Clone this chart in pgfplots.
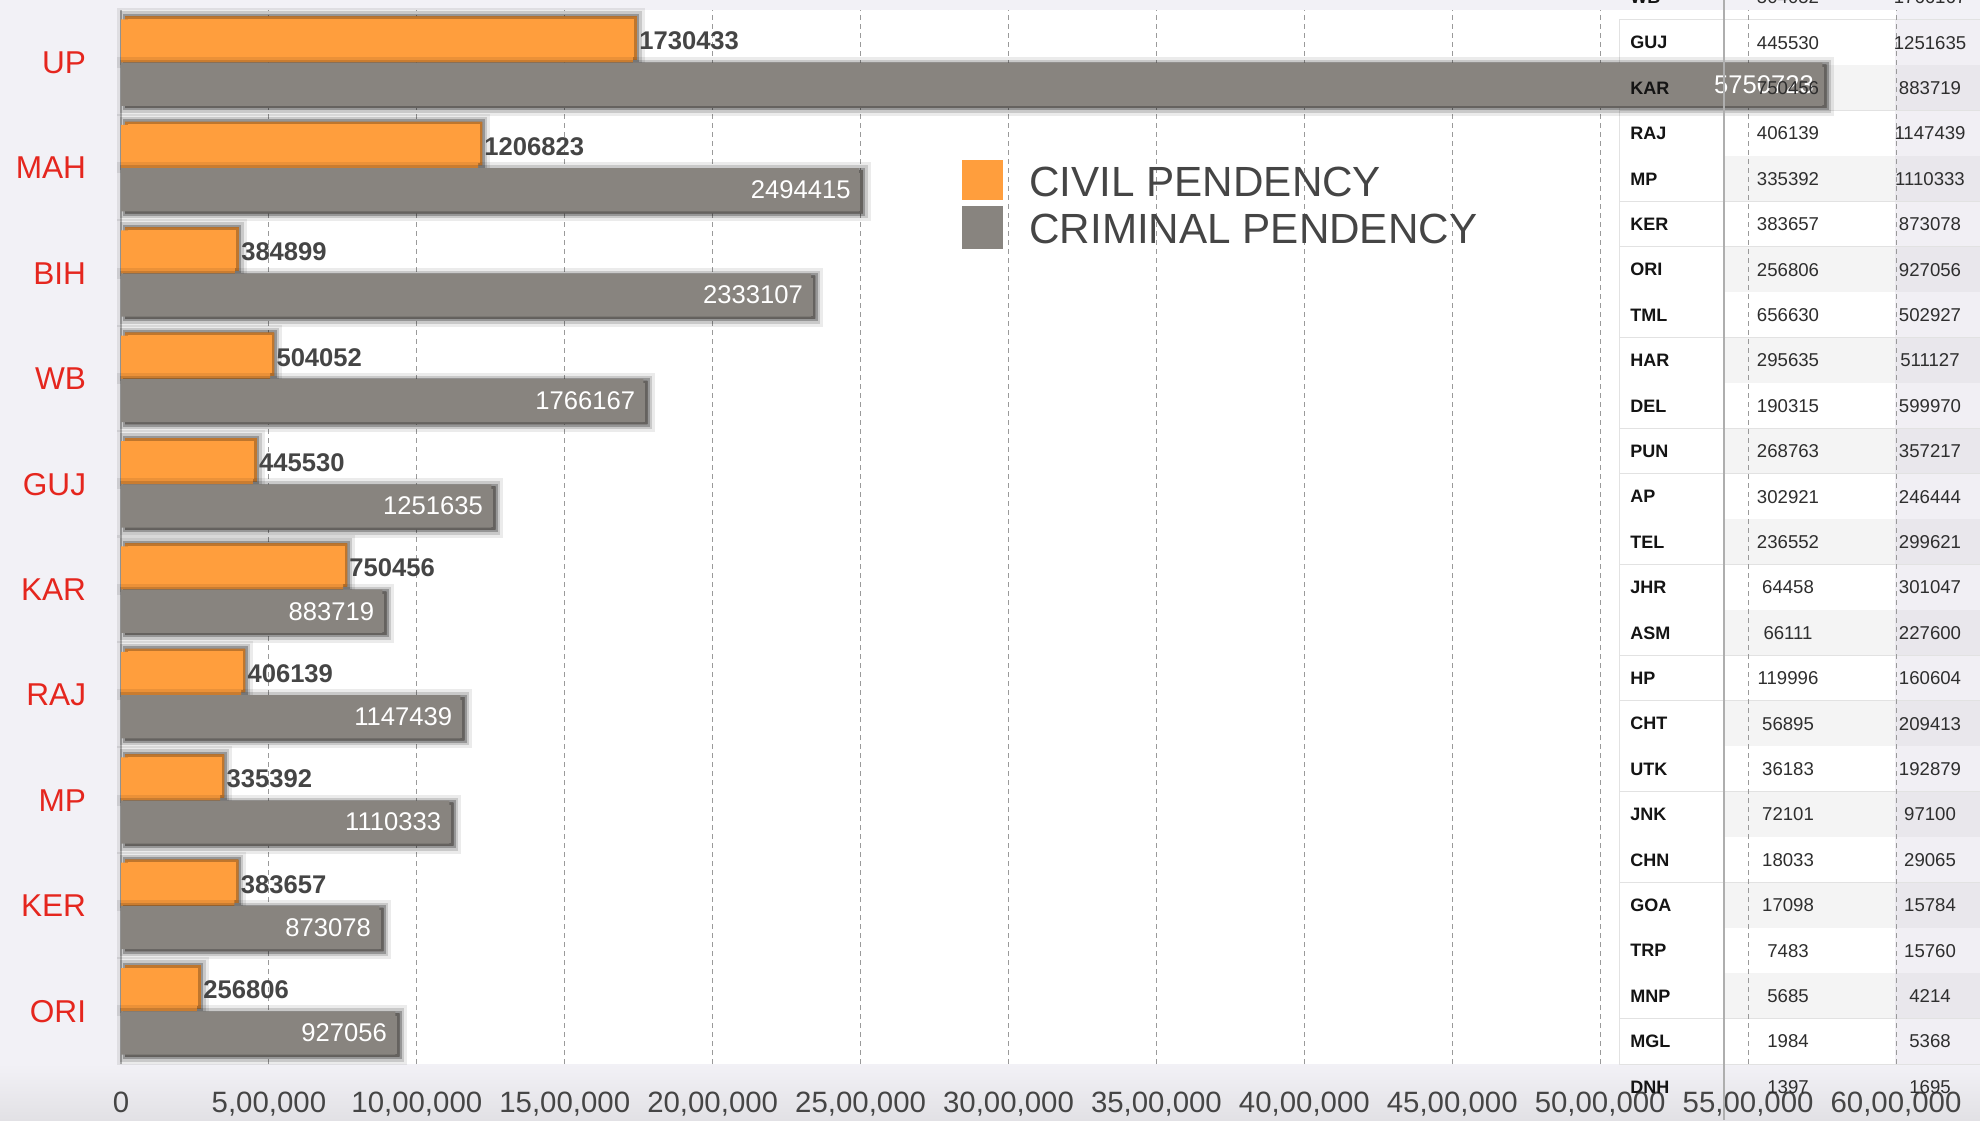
\documentclass[border=0pt]{standalone}
\usepackage{fontspec}
\setmainfont{Liberation Sans}
\usepackage{pgfplots}
\pgfplotsset{compat=1.18}

\definecolor{civ}{HTML}{FF9E3D}
\definecolor{crim}{HTML}{88847F}
\definecolor{catred}{HTML}{E5261E}
\definecolor{txt}{HTML}{454545}
\definecolor{pagebg}{HTML}{F2F1F6}
\definecolor{bandbg}{HTML}{E2E1E5}
\definecolor{gridc}{HTML}{9A9A9A}
\definecolor{tcol2}{HTML}{F4F4F4}
\definecolor{tcolA}{HTML}{F1EFF4}
\definecolor{tcolB}{HTML}{E9E7EC}
\definecolor{tline}{HTML}{E2E2E2}
\definecolor{tname}{HTML}{141414}
\definecolor{tnum}{HTML}{2E2E2E}

\begin{document}
\begin{tikzpicture}
\useasboundingbox (0,0) rectangle (990pt,560pt);
\clip (0,0) rectangle (990pt,560pt);
\fill[pagebg] (0,0) rectangle (990pt,560pt);
\shade[top color=pagebg, bottom color=bandbg] (0,0) rectangle (990pt,28pt);
% plot area
\fill[white] (60.5pt,28pt) rectangle (948pt,555pt);
% table cells
\foreach \i in {1,...,23} {
  \pgfmathsetmacro\yt{572.7-22.7*\i}
  \pgfmathsetmacro\yb{550-22.7*\i}
  \pgfmathtruncatemacro\odd{mod(\i,2)}
  \ifnum\odd=1 \def\cb{white}\def\cc{tcolA}\else\def\cb{tcol2}\def\cc{tcolB}\fi
  \fill[white] (809.5pt,\yb pt) rectangle (862pt,\yt pt);
  \fill[\cb] (862pt,\yb pt) rectangle (947.5pt,\yt pt);
  \fill[\cc] (947.5pt,\yb pt) rectangle (990pt,\yt pt);
  \draw[tline, line width=0.5pt] (809.5pt,\yb pt) -- (990pt,\yb pt);
}
\draw[tline, line width=0.5pt] (809.5pt,550pt) -- (990pt,550pt);
\draw[tline, line width=0.5pt] (809.5pt,28pt) -- (809.5pt,550pt);

\begin{axis}[
  at={(60.5pt,28pt)}, anchor=south west,
  scale only axis, width=887.5pt, height=527pt,
  xbar, bar width=0.41,
  xmin=0, xmax=6000000, ymin=-0.5, ymax=9.5,
  enlargelimits=false, clip=false,
  axis x line*=bottom, axis y line*=left,
  x axis line style={draw=none},
  y axis line style={draw=gridc!70, line width=0.6pt},
  xtick={0,500000,1000000,1500000,2000000,2500000,3000000,3500000,4000000,4500000,5000000,5500000,6000000},
  xticklabels={{0},{5,00,000},{10,00,000},{15,00,000},{20,00,000},{25,00,000},{30,00,000},{35,00,000},{40,00,000},{45,00,000},{50,00,000},{55,00,000},{60,00,000}},
  ytick={0,1,2,3,4,5,6,7,8,9},
  yticklabels={ORI,KER,MP,RAJ,KAR,GUJ,WB,BIH,MAH,UP},
  tick style={draw=none},
  xmajorgrids=true,
  grid style={dash pattern=on 2.5pt off 2pt, color=gridc, line width=0.5pt},
  xticklabel style={font=\fontsize{14.7}{15}\selectfont, text=txt, anchor=north, inner sep=0pt, yshift=-14pt},
  yticklabel style={font=\fontsize{15.8}{16}\selectfont, text=catred, anchor=east, inner sep=0pt, xshift=-13pt},
  /pgf/number format/assume math mode=true,
  point meta=x,
  nodes near coords={\pgfmathprintnumber[fixed, precision=0, 1000 sep={}]{\pgfplotspointmeta}},
]
\addplot[fill=civ, draw=none, bar shift=0.205,
  preaction={draw=black, draw opacity=0.08, line width=8pt, transform canvas={xshift=2pt, yshift=1.5pt}},
  preaction={draw=black, draw opacity=0.14, line width=5pt, transform canvas={xshift=2pt, yshift=1.5pt}},
  preaction={draw=black, draw opacity=0.25, line width=2.5pt, transform canvas={xshift=2pt, yshift=1.5pt}},
  every node near coord/.append style={anchor=west, xshift=3pt, inner sep=0pt, text=txt, font=\fontsize{12.8}{13}\selectfont\bfseries}]
  coordinates {
  (1730433,9)
  (1206823,8)
  (384899,7)
  (504052,6)
  (445530,5)
  (750456,4)
  (406139,3)
  (335392,2)
  (383657,1)
  (256806,0)
};
\addplot[fill=crim, draw=none, bar shift=-0.205,
  preaction={draw=black, draw opacity=0.08, line width=8pt, transform canvas={xshift=2pt, yshift=-1pt}},
  preaction={draw=black, draw opacity=0.14, line width=5pt, transform canvas={xshift=2pt, yshift=-1pt}},
  preaction={draw=black, draw opacity=0.25, line width=2.5pt, transform canvas={xshift=2pt, yshift=-1pt}},
  every node near coord/.append style={anchor=east, xshift=-4pt, inner sep=0pt, text=white, font=\fontsize{12.8}{13}\selectfont}]
  coordinates {
  (5750723,9)
  (2494415,8)
  (2333107,7)
  (1766167,6)
  (1251635,5)
  (883719,4)
  (1147439,3)
  (1110333,2)
  (873078,1)
  (927056,0)
};
\end{axis}

% legend
\fill[civ] (481pt,460pt) rectangle (501.5pt,480pt);
\fill[crim] (481pt,435.5pt) rectangle (501.5pt,457pt);
\node[anchor=base west, inner sep=0pt, text=txt, font=\fontsize{21.1}{21.1}\selectfont] at (514.5pt,461.5pt) {CIVIL PENDENCY};
\node[anchor=base west, inner sep=0pt, text=txt, font=\fontsize{21.1}{21.1}\selectfont] at (514.5pt,438pt) {CRIMINAL PENDENCY};

% table text
\draw[gridc!80, line width=0.6pt] (862pt,0pt) -- (862pt,560pt);
\foreach \i/\nm/\va/\vb in {0/WB/504052/1766167, 1/GUJ/445530/1251635, 2/KAR/750456/883719,
  3/RAJ/406139/1147439, 4/MP/335392/1110333, 5/KER/383657/873078, 6/ORI/256806/927056,
  7/TML/656630/502927, 8/HAR/295635/511127, 9/DEL/190315/599970, 10/PUN/268763/357217,
  11/AP/302921/246444, 12/TEL/236552/299621, 13/JHR/64458/301047, 14/ASM/66111/227600,
  15/HP/119996/160604, 16/CHT/56895/209413, 17/UTK/36183/192879, 18/JNK/72101/97100,
  19/CHN/18033/29065, 20/GOA/17098/15784, 21/TRP/7483/15760, 22/MNP/5685/4214,
  23/MGL/1984/5368, 24/DNH/1397/1695} {
  \pgfmathsetmacro\yc{561.35-22.7*\i}
  \node[anchor=west, inner sep=0pt, text=tname, font=\fontsize{9}{9}\selectfont\bfseries] at (815pt,\yc pt) {\nm};
  \node[inner sep=0pt, text=tnum, font=\fontsize{9.3}{9.3}\selectfont] at (894pt,\yc pt) {\va};
  \node[inner sep=0pt, text=tnum, font=\fontsize{9.3}{9.3}\selectfont] at (965pt,\yc pt) {\vb};
}
\end{tikzpicture}
\end{document}
